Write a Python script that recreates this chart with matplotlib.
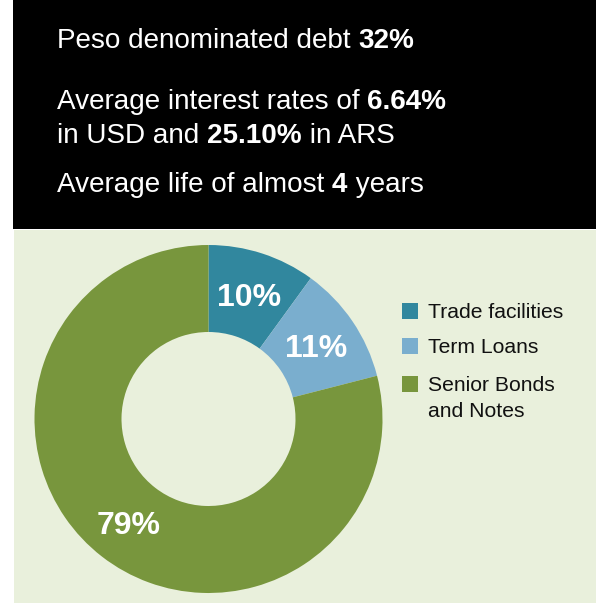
import matplotlib
matplotlib.use("Agg")
import matplotlib.pyplot as plt
from matplotlib.patches import Rectangle

plt.rcParams['font.family'] = ['Liberation Sans', 'DejaVu Sans']

# data
categories = ['Trade facilities', 'Term Loans', 'Senior Bonds\nand Notes']
shares = [10, 11, 79]
colours = ['#31879E', '#7AAECE', '#78963D']

# headline lines: (text, bold) pieces
headlines = [
	[('Peso denominated debt ', False), ('32%', True)],
	[('Average interest rates of ', False), ('6.64%', True)],
	[('in USD and ', False), ('25.10%', True), (' in ARS', False)],
	[('Average life of almost ', False), ('4', True), (' years', False)],
]
baselines = [48, 109, 143, 192]

W, H = 596, 605
fig = plt.figure(figsize=(W / 100, H / 100), dpi=100)
fig.patch.set_facecolor('white')

# overlay axes in pixel coordinates
bg = fig.add_axes([0, 0, 1, 1])
bg.set_xlim(0, W)
bg.set_ylim(H, 0)
bg.axis('off')
bg.add_patch(Rectangle((13, 0), W - 13, 229, facecolor='black', edgecolor='none'))
bg.add_patch(Rectangle((14, 230), W - 14, 373, facecolor='#E9F0DC', edgecolor='none'))

renderer = fig.canvas.get_renderer()
inv = bg.transData.inverted()
for pieces, base in zip(headlines, baselines):
	x = 57
	for txt, bold in pieces:
		t = bg.text(x, base, txt, color='white', fontsize=20.1,
			fontweight='bold' if bold else 'normal', va='baseline', ha='left')
		bb = t.get_window_extent(renderer=renderer)
		x = inv.transform((bb.x1, bb.y0))[0]

# legend
legend_base = [318, 353, 391]
for c, lab, y in zip(colours, categories, legend_base):
	bg.add_patch(Rectangle((402, y - 15), 16, 16, facecolor=c, edgecolor='none'))
	for k, line in enumerate(lab.split('\n')):
		bg.text(428, y + 26 * k, line, color='#111111', fontsize=15.2,
			va='baseline', ha='left')

# donut
ax = fig.add_axes([34 / W, (H - 593) / H, 349 / W, 348 / H])
ax.set_facecolor('none')
wedges, texts, autotexts = ax.pie(shares, colors=colours, startangle=90, counterclock=False,
	autopct='%d%%', pctdistance=0.75, radius=1,
	wedgeprops=dict(width=0.5, edgecolor='none'),
	textprops=dict(color='white', fontsize=23, fontweight='bold'))
for t in autotexts:
	t.set_va('center_baseline')
ax.set_xlim(-1, 1)
ax.set_ylim(-1, 1)
ax.set_aspect('equal')

fig.savefig('out.png', dpi=100, facecolor=fig.get_facecolor())
